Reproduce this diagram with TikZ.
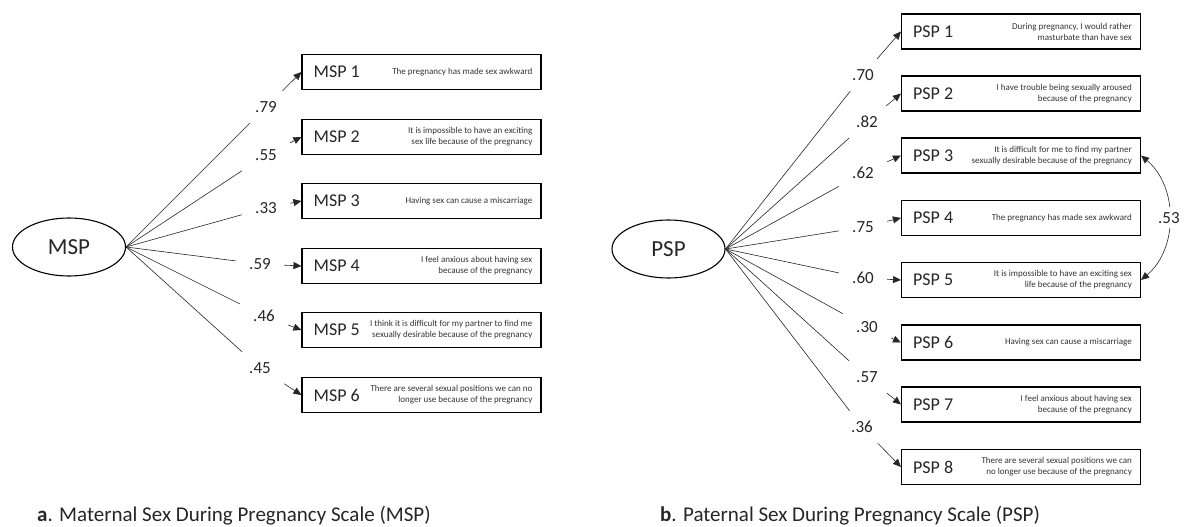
\documentclass[tikz,border=0pt]{standalone}
\usepackage{fontspec}
\setmainfont{Carlito}
\usepackage{tikz}
\usepackage{xcolor}
\usetikzlibrary{arrows.meta,shapes}

\tikzset{
latent/.style={draw,ellipse,line width=1.1pt,minimum width=113pt,minimum height=58pt,font=\fontsize{23}{26}\selectfont,text=black!85},
item/.style={draw,rectangle,line width=1.1pt,minimum width=239pt,minimum height=35pt},
itemname/.style={anchor=west,inner xsep=12pt,font=\fontsize{18}{21}\selectfont,text=black!85},
itemtext/.style={anchor=east,inner xsep=9pt,align=right,font=\fontsize{9}{11}\selectfont,text=black!80},
coef/.style={minimum width=48pt,minimum height=32pt,inner sep=0pt,font=\fontsize{17}{20}\selectfont,text=black!85},
link/.style={line width=0.6pt,black!85},
caption/.style={anchor=base west,inner sep=0pt,font=\fontsize{21}{25}\selectfont,text=black!85}
}

\begin{document}
\begin{tikzpicture}[x=1pt,y=-1pt,>={Triangle[length=8pt,width=7pt]}]
\useasboundingbox (0,0) rectangle (1184,527);

% maternal scale
\node[latent](msp) at (69,247){MSP};
\node[item](msp1) at (421.5,72){};
\node[item](msp2) at (421.5,137){};
\node[item](msp3) at (421.5,201){};
\node[item](msp4) at (421.5,266){};
\node[item](msp5) at (421.5,330){};
\node[item](msp6) at (421.5,395){};
\node[itemname](msp1n) at (msp1.west){MSP 1};
\node[itemname](msp2n) at (msp2.west){MSP 2};
\node[itemname](msp3n) at (msp3.west){MSP 3};
\node[itemname](msp4n) at (msp4.west){MSP 4};
\node[itemname](msp5n) at (msp5.west){MSP 5};
\node[itemname](msp6n) at (msp6.west){MSP 6};
\node[itemtext](msp1t) at (msp1.east){The pregnancy has made sex awkward};
\node[itemtext](msp2t) at (msp2.east){It is impossible to have an exciting\\sex life because of the pregnancy};
\node[itemtext](msp3t) at (msp3.east){Having sex can cause a miscarriage};
\node[itemtext](msp4t) at (msp4.east){I feel anxious about having sex\\because of the pregnancy};
\node[itemtext](msp5t) at (msp5.east){I think it is difficult for my partner to find me\\sexually desirable because of the pregnancy};
\node[itemtext](msp6t) at (msp6.east){There are several sexual positions we can no\\longer use because of the pregnancy};
\node[coef](m1) at (266,107){.79};
\node[coef](m2) at (266,155){.55};
\node[coef](m3) at (266,208){.33};
\node[coef](m4) at (260,264){.59};
\node[coef](m5) at (264,316){.46};
\node[coef](m6) at (260,368){.45};
\draw[link](msp.east)--(m1);
\draw[link](msp.east)--(m2);
\draw[link](msp.east)--(m3);
\draw[link](msp.east)--(m4);
\draw[link](msp.east)--(m5);
\draw[link](msp.east)--(m6);
\draw[link,->](m1)--(msp1.west);
\draw[link,->](m2)--(msp2.west);
\draw[link,->](m3)--(msp3.west);
\draw[link,->](m4)--(msp4.west);
\draw[link,->](m5)--(msp5.west);
\draw[link,->](m6)--(msp6.west);

% paternal scale
\node[latent](psp) at (668.5,249){PSP};
\node[item](psp1) at (1021,31.5){};
\node[item](psp2) at (1021,93.5){};
\node[item](psp3) at (1021,155.5){};
\node[item](psp4) at (1021,218){};
\node[item](psp5) at (1021,280){};
\node[item](psp6) at (1021,342.5){};
\node[item](psp7) at (1021,404.5){};
\node[item](psp8) at (1021,467){};
\node[itemname](psp1n) at (psp1.west){PSP 1};
\node[itemname](psp2n) at (psp2.west){PSP 2};
\node[itemname](psp3n) at (psp3.west){PSP 3};
\node[itemname](psp4n) at (psp4.west){PSP 4};
\node[itemname](psp5n) at (psp5.west){PSP 5};
\node[itemname](psp6n) at (psp6.west){PSP 6};
\node[itemname](psp7n) at (psp7.west){PSP 7};
\node[itemname](psp8n) at (psp8.west){PSP 8};
\node[itemtext](psp1t) at (psp1.east){During pregnancy, I would rather\\masturbate than have sex};
\node[itemtext](psp2t) at (psp2.east){I have trouble being sexually aroused\\because of the pregnancy};
\node[itemtext](psp3t) at (psp3.east){It is difficult for me to find my partner\\sexually desirable because of the pregnancy};
\node[itemtext](psp4t) at (psp4.east){The pregnancy has made sex awkward};
\node[itemtext](psp5t) at (psp5.east){It is impossible to have an exciting sex\\life because of the pregnancy};
\node[itemtext](psp6t) at (psp6.east){Having sex can cause a miscarriage};
\node[itemtext](psp7t) at (psp7.east){I feel anxious about having sex\\because of the pregnancy};
\node[itemtext](psp8t) at (psp8.east){There are several sexual positions we can\\no longer use because of the pregnancy};
\node[coef](p1) at (863,75){.70};
\node[coef](p2) at (867,122){.82};
\node[coef](p3) at (863,173){.62};
\node[coef](p4) at (863,227){.75};
\node[coef](p5) at (863,278){.60};
\node[coef](p6) at (867,327){.30};
\node[coef](p7) at (867,377){.57};
\node[coef](p8) at (862,427){.36};
\draw[link](psp.east)--(p1);
\draw[link](psp.east)--(p2);
\draw[link](psp.east)--(p3);
\draw[link](psp.east)--(p4);
\draw[link](psp.east)--(p5);
\draw[link](psp.east)--(p6);
\draw[link](psp.east)--(p7);
\draw[link](psp.east)--(p8);
\draw[link,->](p1)--(psp1.west);
\draw[link,->](p2)--(psp2.west);
\draw[link,->](p3)--(psp3.west);
\draw[link,->](p4)--(psp4.west);
\draw[link,->](p5)--(psp5.west);
\draw[link,->](p6)--(psp6.west);
\draw[link,->](p7)--(psp7.west);
\draw[link,->](p8)--(psp8.west);
\draw[link,<->](psp5.east)to[bend right=50]node[fill=white,inner sep=5pt,font=\fontsize{17}{20}\selectfont,text=black!85](c53){.53}(psp3.east);

% captions
\node[caption](capa) at (37,521){\textbf{a}. Maternal Sex During Pregnancy Scale (MSP)};
\node[caption](capb) at (660,521){\textbf{b}. Paternal Sex During Pregnancy Scale (PSP)};
\end{tikzpicture}
\end{document}
